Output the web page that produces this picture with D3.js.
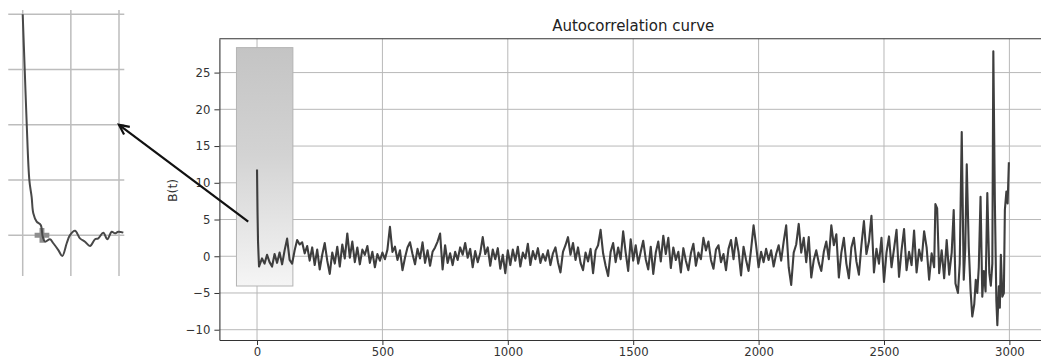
<!DOCTYPE html>
<html>
<head>
<meta charset="utf-8">
<script src="https://cdn.jsdelivr.net/npm/d3@7"></script>
<style>
  body { margin: 0; background: #fff; }
  svg { display: block; font-family: "DejaVu Sans", sans-serif; }
</style>
</head>
<body>
<svg id="chart" width="1041" height="358"></svg>
<script>
// ---- data -------------------------------------------------------------
const chartTitle = "Autocorrelation curve";
const yLabel = "B(t)";
const xTicks = [0, 500, 1000, 1500, 2000, 2500, 3000];
const yTicks = [-10, -5, 0, 5, 10, 15, 20, 25];

// first lags, where the curve falls off its peak
const headLags = [0, 2, 4, 6, 8];
const headValues = [11.8, 6.0, 2.0, 0.2, -1.4];

// evenly sampled block, lag 10 .. 2690 every 10
const sampleStep = 10;
const sampledValues = [
  -1.2, -0.3, -1.0, 0.2, -0.8, -1.4, 0.3, -0.9, 0.5, -1.1,
  0.8, 2.4, -0.5, -1.0, 0.8, 2.2, 1.6, 1.9, 0.4, 1.4,
  -0.6, 1.2, -1.2, 0.9, -1.8, 0.2, 1.8, -0.6, -2.4, 0.5,
  -1.0, 1.3, -1.4, 1.6, -0.3, 3.1, -0.2, 2.0, -0.8, 1.2,
  -1.1, 0.9, 0.2, 1.4, -0.9, 0.6, -1.5, 0.3, -0.6, 0.5,
  -0.4, 0.9, 4.0, 0.6, 1.3, -0.5, 0.8, -1.9, -0.2, 1.2,
  1.9, 0.3, -1.1, 1.0, -0.3, 1.9, -0.9, 0.8, -1.3, 0.6,
  1.2, 2.0, 3.1, -1.8, 1.5, -0.9, 0.4, -1.2, 0.6, -0.5,
  1.2, 0.2, 1.8, -0.2, 1.0, -1.5, 0.7, -0.8, 0.4, 2.6,
  0.3, 1.2, -1.3, 0.9, -0.4, 1.1, -1.7, 0.2, -2.3, 0.8,
  -1.2, 0.9, -0.6, 1.3, -1.4, 0.5, -0.3, 1.7, -1.2, 0.7,
  -0.4, 1.1, -0.9, 0.3, -0.6, 0.8, -1.2, 0.4, 1.2, -0.8,
  -2.2, 0.6, 1.5, 2.6, 0.2, 1.8, -0.5, 1.2, -0.9, -1.9,
  0.5, -0.7, 1.0, -2.3, 0.8, 1.5, 3.6, 0.4, -1.3, -2.7,
  0.6, 1.8, -0.8, 1.2, -0.4, 3.4, 0.5, -2.0, 2.3, -0.6,
  1.5, -1.0, 0.6, 2.1, -0.4, -1.8, 1.3, -2.4, 0.5, 2.0,
  -0.7, 2.8, 0.3, 2.5, -1.6, 1.2, -0.5, 0.6, -2.2, 1.1,
  -0.6, -1.9, 0.4, 1.7, -1.3, 0.5, -0.4, 2.5, 0.8, 2.0,
  -0.5, -1.7, 0.9, 1.5, -0.8, 0.3, -1.9, 1.0, 2.2, -0.4,
  2.5, 0.6, -2.6, 1.3, -0.5, -2.0, 0.9, 4.2, 1.5, -1.5,
  0.6, -0.8, 1.0, -0.5, 0.8, -1.4, 0.3, 1.5, -0.6, 2.0,
  4.2, -1.5, -3.9, 0.5, 1.6, 4.4, 0.5, 2.5, -0.8, 2.6,
  -2.9, -0.5, 0.8, -0.9, -2.0, 0.6, 2.0, -0.4, 4.2, 1.5,
  3.0, -2.9, 0.5, 2.5, -1.0, -3.0, 1.2, 2.5, -0.7, -2.5,
  1.5, 4.8, 0.3, 2.0, 5.5, -2.2, 1.0, -1.0, 2.5, -3.5,
  0.5, 2.7, -1.5, 1.0, 3.6, -2.8, 0.8, 3.7, -1.9, 0.6,
  -1.2, 3.5, -2.2, 0.9, -0.6, 3.4, 1.2, -3.2, 0.4
];

// last stretch, where the curve swings hard
const tailLags = [2700, 2705, 2712, 2720, 2730, 2740, 2750, 2760, 2770, 2778,
  2785, 2795, 2802, 2810, 2818, 2824, 2830, 2838, 2845, 2852,
  2860, 2866, 2872, 2878, 2885, 2892, 2898, 2905, 2912, 2920,
  2926, 2932, 2936, 2942, 2948, 2952, 2958, 2962, 2966, 2972,
  2978, 2982, 2988, 2993, 2998];
const tailValues = [-1.5, 7.1, 6.5, -2.3, 0.8, -3.0, 2.2, -2.5, 0.5, 6.3,
  -3.7, -5.0, -1.0, 16.9, -3.2, 1.0, 12.5, 1.3, -4.5, -8.2,
  -6.5, -3.2, -5.0, -1.5, 8.1, -5.5, -2.0, -4.8, 8.6, -2.3,
  -4.0, -1.0, 27.9, 7.7, -6.0, -9.4, -4.1, -7.0, 0.2, -5.5,
  -5.0, 6.3, 8.8, 7.2, 12.8];

// highlighted window around the first lags (lag range, B(t) range)
const windowLag = [-82, 143];
const windowB = [-4.05, 28.4];

// close-up of the first hundred lags
const insetLags = [0, 2.1, 4.2, 6.9, 9.3, 11, 14.5, 18.7, 20.8, 23.2, 28.3, 31.8, 37, 41.1,
  45.7, 49.1, 54.3, 59.5, 64.7, 69.9, 75.1, 78.5, 83.7, 87.9, 92.4, 95.8, 99.3, 104.5];
const insetValues = [10.0, 7.5, 5.0, 2.5, 1.73, 1.0, 0.62, 0.47, -0.06, -0.29, -0.18, -0.36, -0.67, -0.94,
  -0.36, 0.01, 0.21, -0.14, -0.29, -0.48, -0.18, -0.14, 0.12, -0.18, 0.16, 0.09, 0.16, 0.12];
const insetXTicks = [0, 50, 100];
const insetYTicks = [0, 2.5, 5, 7.5, 10];
const insetMarkLag = 20;
const insetMarkValue = 0;

// ---- assemble series ----------------------------------------------------
const sampledLags = sampledValues.map((_, i) => (i + 1) * sampleStep);
const lags = headLags.concat(sampledLags, tailLags);
const acf = headValues.concat(sampledValues, tailValues);
const series = lags.map((t, i) => ({ t, v: acf[i] }));

// ---- drawing ------------------------------------------------------------
const svg = d3.select("#chart");
const W = 1041, H = 358;
svg.append("rect").attr("width", W).attr("height", H).attr("fill", "#fff");

const plot = { left: 219.4, right: 1047, top: 38.8, bottom: 340 };
const x = d3.scaleLinear().domain([-150, 3150]).range([plot.left, plot.right]);
const y = d3.scaleLinear().domain([-11.4, 29.6]).range([plot.bottom, plot.top]);

const defs = svg.append("defs");
const grad = defs.append("linearGradient")
  .attr("id", "windowFill").attr("x1", 0).attr("y1", 0).attr("x2", 0).attr("y2", 1);
grad.append("stop").attr("offset", "0%").attr("stop-color", "#c4c4c4");
grad.append("stop").attr("offset", "45%").attr("stop-color", "#d3d3d3");
grad.append("stop").attr("offset", "100%").attr("stop-color", "#f5f5f5");

const gridColor = "#b8b8b8";
const main = svg.append("g");

// grid
main.append("g").selectAll("line").data(xTicks).join("line")
  .attr("x1", d => x(d)).attr("x2", d => x(d))
  .attr("y1", plot.top).attr("y2", plot.bottom)
  .attr("stroke", gridColor).attr("stroke-width", 1);
main.append("g").selectAll("line").data(yTicks).join("line")
  .attr("x1", plot.left).attr("x2", plot.right)
  .attr("y1", d => y(d)).attr("y2", d => y(d))
  .attr("stroke", gridColor).attr("stroke-width", 1);

// highlighted window
main.append("rect")
  .attr("x", x(windowLag[0])).attr("y", y(windowB[1]))
  .attr("width", x(windowLag[1]) - x(windowLag[0]))
  .attr("height", y(windowB[0]) - y(windowB[1]))
  .attr("fill", "url(#windowFill)")
  .attr("stroke", "#b4b4b4").attr("stroke-width", 1);

// curve
main.append("path").datum(series)
  .attr("d", d3.line().x(d => x(d.t)).y(d => y(d.v)))
  .attr("fill", "none").attr("stroke", "#3e3e3e").attr("stroke-width", 2.1)
  .attr("stroke-linejoin", "round");

// axes
const fmt = d3.format("d");
const xAxis = main.append("g").attr("transform", `translate(0,${plot.bottom})`)
  .call(d3.axisBottom(x).tickValues(xTicks).tickFormat(fmt).tickSize(5).tickPadding(2.5).tickSizeOuter(0));
const yAxis = main.append("g").attr("transform", `translate(${plot.left},0)`)
  .call(d3.axisLeft(y).tickValues(yTicks).tickFormat(fmt).tickSize(5).tickPadding(4).tickSizeOuter(0));
[xAxis, yAxis].forEach(g => {
  g.select(".domain").attr("stroke", "#333").attr("stroke-width", 1.1);
  g.selectAll(".tick line").attr("stroke", "#333");
  g.selectAll(".tick text").attr("fill", "#333")
    .style("font-family", "'DejaVu Sans', sans-serif").style("font-size", "11.7px");
});
main.append("line")
  .attr("x1", plot.left).attr("x2", plot.right)
  .attr("y1", plot.top).attr("y2", plot.top)
  .attr("stroke", "#333").attr("stroke-width", 1.1);

// title and y label
svg.append("text")
  .attr("x", (plot.left + plot.right) / 2).attr("y", 31)
  .attr("text-anchor", "middle").attr("fill", "#222")
  .style("font-size", "15px").text(chartTitle);
svg.append("text")
  .attr("transform", `translate(177,${(plot.top + plot.bottom) / 2 + 1}) rotate(-90)`)
  .attr("text-anchor", "middle").attr("fill", "#333")
  .style("font-size", "12.5px").text(yLabel);

// ---- close-up panel -----------------------------------------------------
const ix = d3.scaleLinear().domain([0, 100]).range([22.7, 119]);
const iy = d3.scaleLinear().domain([0, 10]).range([235.3, 14.3]);
const insetLagExtent = [-15, 105.5];
const insetValueExtent = [-1.84, 10.2];
const inset = svg.append("g");
const insetGrid = "#bdbdbd";

inset.append("g").selectAll("line").data(insetXTicks).join("line")
  .attr("x1", d => ix(d)).attr("x2", d => ix(d))
  .attr("y1", iy(insetValueExtent[1])).attr("y2", iy(insetValueExtent[0]))
  .attr("stroke", insetGrid).attr("stroke-width", 1.5);
inset.append("g").selectAll("line").data(insetYTicks).join("line")
  .attr("x1", ix(insetLagExtent[0])).attr("x2", ix(insetLagExtent[1]))
  .attr("y1", d => iy(d)).attr("y2", d => iy(d))
  .attr("stroke", insetGrid).attr("stroke-width", 1.5);

inset.append("path")
  .attr("transform", `translate(${ix(insetMarkLag)},${iy(insetMarkValue)})`)
  .attr("d", d3.symbol(d3.symbolCross, 120)())
  .attr("fill", "#8e8e8e");

inset.append("path").datum(insetLags.map((t, i) => ({ t, v: insetValues[i] })))
  .attr("d", d3.line().x(d => ix(d.t)).y(d => iy(d.v)).curve(d3.curveCatmullRom))
  .attr("fill", "none").attr("stroke", "#484848").attr("stroke-width", 2)
  .attr("stroke-linejoin", "round");

// ---- arrow from the window to the close-up ------------------------------
const from = [x(-35), y(4.7)];
const to = [ix(100), iy(5)];
const ang = Math.atan2(from[1] - to[1], from[0] - to[0]);
const head = 11, spread = 0.45;
svg.append("line")
  .attr("x1", from[0]).attr("y1", from[1]).attr("x2", to[0]).attr("y2", to[1])
  .attr("stroke", "#111").attr("stroke-width", 2.2);
svg.append("path")
  .attr("d", d3.line()([
    [to[0] + head * Math.cos(ang + spread), to[1] + head * Math.sin(ang + spread)],
    to,
    [to[0] + head * Math.cos(ang - spread), to[1] + head * Math.sin(ang - spread)]
  ]))
  .attr("fill", "none").attr("stroke", "#111").attr("stroke-width", 2.2)
  .attr("stroke-linejoin", "miter");
</script>
</body>
</html>
